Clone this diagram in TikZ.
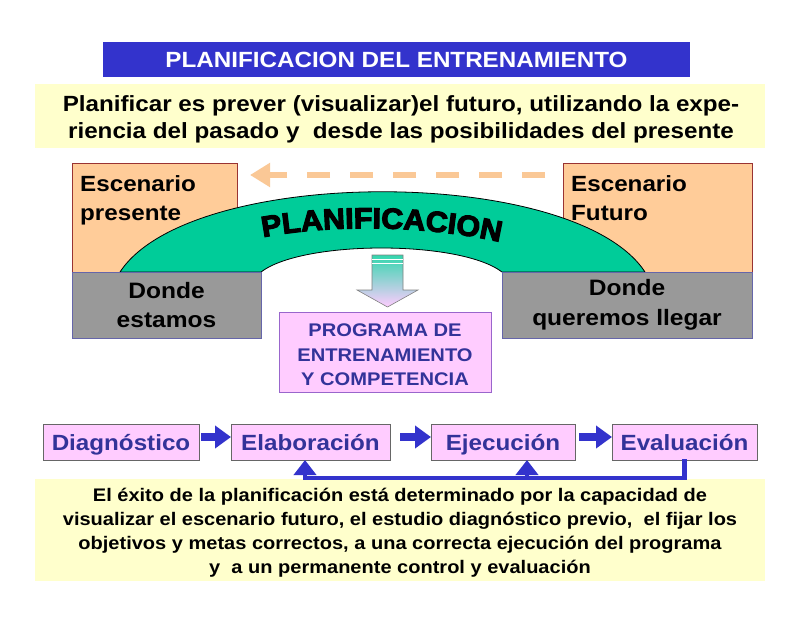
\documentclass[tikz,border=0pt]{standalone}
\usepackage{fontspec}
\setmainfont{Liberation Sans}[FakeStretch=1.1]
\newfontfamily\heavyfont{Liberation Sans}[FakeStretch=1.05, BoldFeatures={FakeBold=4}]
\usetikzlibrary{arrows.meta,decorations.text,calc}
\definecolor{titleblue}{HTML}{3333CC}
\definecolor{paleyellow}{HTML}{FFFFCC}
\definecolor{orangebox}{HTML}{FFCC99}
\definecolor{orangeedge}{HTML}{993333}
\definecolor{graybox}{HTML}{999999}
\definecolor{grayedge}{HTML}{6666AA}
\definecolor{archgreen}{HTML}{00CC99}
\definecolor{dashorange}{HTML}{FAC896}
\definecolor{pinkbox}{HTML}{FFCCFF}
\definecolor{pinkedge}{HTML}{9966CC}
\definecolor{flowtext}{HTML}{333399}
\definecolor{flowblue}{HTML}{3333CC}
\tikzset{
  rectbox/.style={rectangle, inner sep=0pt, outer sep=0pt, anchor=north west},
  titlebox/.style={rectbox, fill=titleblue, text=white, font=\bfseries\fontsize{22}{24}\selectfont},
  yellowbox/.style={rectbox, fill=paleyellow},
  introtext/.style={inner sep=0pt, align=center, font=\bfseries\fontsize{22}{27}\selectfont},
  concltext/.style={inner sep=0pt, align=center, font=\bfseries\fontsize{18.2}{24}\selectfont},
  orangerect/.style={rectbox, fill=orangebox, draw=orangeedge, line width=0.6pt},
  grayrect/.style={rectbox, fill=graybox, draw=grayedge, line width=0.6pt, align=center, font=\bfseries\fontsize{22.3}{29.5}\selectfont},
  boxlabel/.style={anchor=north west, inner sep=0pt, align=left, font=\bfseries\fontsize{22}{29}\selectfont},
  progbox/.style={rectbox, fill=pinkbox, draw=pinkedge, line width=0.8pt},
  progtext/.style={inner sep=0pt, align=center, text=flowtext, font=\bfseries\fontsize{18.3}{24.5}\selectfont},
  flowbox/.style={rectbox, fill=pinkbox, draw=gray!80!black, line width=0.6pt, text=flowtext, minimum height=36pt, text height=17pt, text depth=1pt, font=\bfseries\fontsize{22}{24}\selectfont},
  flowarrow/.style={draw=flowblue, line width=8pt, -{Triangle[length=16pt,width=22pt]}},
  fbline/.style={draw=flowblue, line width=4.5pt},
  fbarrow/.style={draw=flowblue, line width=4.5pt, -{Triangle[length=15pt,width=22pt]}},
  dasharrow/.style={draw=dashorange, line width=6pt, dash pattern=on 23pt off 20pt, -{Triangle[length=20pt,width=23pt]}},
}
\begin{document}
\begin{tikzpicture}[x=1pt,y=-1pt]
\useasboundingbox[fill=white] (0,0) rectangle (800,618);

% title and intro
\node[titlebox, minimum width=587pt, minimum height=35pt] (title) at (103,42) {PLANIFICACION DEL ENTRENAMIENTO};
\node[yellowbox, minimum width=730pt, minimum height=64pt] (intro) at (35,84) {};
\node[introtext] (introt) at ($(intro.center)+(1,3)$)
  {Planificar es prever (visualizar)el futuro, utilizando la expe-\\riencia del pasado y\ \ desde las posibilidades del presente};

% scenario boxes
\node[orangerect, minimum width=165pt, minimum height=109pt] (escP) at (72,163) {};
\node[orangerect, minimum width=189pt, minimum height=109pt] (escF) at (563,163) {};
\node[boxlabel] (escPt) at (80,175) {Escenario\\presente};
\node[boxlabel] (escFt) at (571,175) {Escenario\\Futuro};

% dashed arrow
\draw[dasharrow] ($(escF.north west)+(-18,12)$) -- ($(escP.north east)+(13,12)$);

% arch
\draw[fill=archgreen, draw=black, line width=0.8pt] (120,272) .. controls (190,165) and (575,165) .. (645,272)
  -- (502,272) .. controls (460,240) and (303,240) .. (261,272) -- cycle;
\path[decorate, decoration={text along path, text align=center,
  text={|\heavyfont\bfseries\fontsize{29}{29}\selectfont|PLANIFICACION}}]
  (254,239) .. controls (330,223) and (430,225) .. (509,244);

% gray boxes
\node[grayrect, minimum width=189pt, minimum height=66pt] (dondeA) at (72,272) {Donde\\estamos};
\node[grayrect, minimum width=250pt, minimum height=66pt] (dondeB) at (502,272) {Donde\\queremos llegar};

% down arrow
\shade[top color=archgreen!80, bottom color=pinkbox] (372,255) -- (403,255) -- (403,290) -- (418,290) -- (387.5,307) -- (357,290) -- (372,290) -- cycle;
\draw[gray, line width=0.6pt] (372,255) -- (403,255) -- (403,290) -- (418,290) -- (387.5,307) -- (357,290) -- (372,290) -- cycle;
\draw[white, line width=1pt] (372,259) -- (403,259) (372,263) -- (403,263);

% program box
\node[progbox, minimum width=212pt, minimum height=80pt] (prog) at (279,312) {};
\node[progtext] (progt) at ($(prog.center)+(0,3)$) {PROGRAMA DE\\ENTRENAMIENTO\\Y COMPETENCIA};

% flow boxes
\node[flowbox, minimum width=156pt] (diag) at (43,424) {Diagnóstico};
\node[flowbox, minimum width=159pt] (elab) at (231,424) {Elaboración};
\node[flowbox, minimum width=144pt] (ejec) at (431,424) {Ejecución};
\node[flowbox, minimum width=145pt] (eval) at (612,424) {Evaluación};
\coordinate (arrowy) at (0,437);
\draw[flowarrow] ($(diag.east |- arrowy)+(2,0)$) -- (elab.west |- arrowy);
\draw[flowarrow] ($(elab.east |- arrowy)+(10,0)$) -- (ejec.west |- arrowy);
\draw[flowarrow] ($(ejec.east |- arrowy)+(4,0)$) -- (eval.west |- arrowy);

% conclusion box
\node[yellowbox, minimum width=730pt, minimum height=102pt] (concl) at (35,479) {};
\node[concltext] (conclt) at ($(concl.center)+(0,3)$)
  {El éxito de la planificación está determinado por la capacidad de\\
   visualizar el escenario futuro, el estudio diagnóstico previo,\ \ el fijar los\\
   objetivos y metas correctos, a una correcta ejecución del programa\\
   y\ \ a un permanente control y evaluación};

% feedback
\coordinate (fbL) at (305,478);
\coordinate (fbM) at (527,478);
\draw[fbline] ($(eval.south)+(0,-1)$) |- ($(fbL)+(-2.25,0)$);
\draw[fbarrow] (fbL) -- (fbL |- elab.south);
\draw[fbarrow] (fbM) -- (fbM |- ejec.south);
\end{tikzpicture}
\end{document}
